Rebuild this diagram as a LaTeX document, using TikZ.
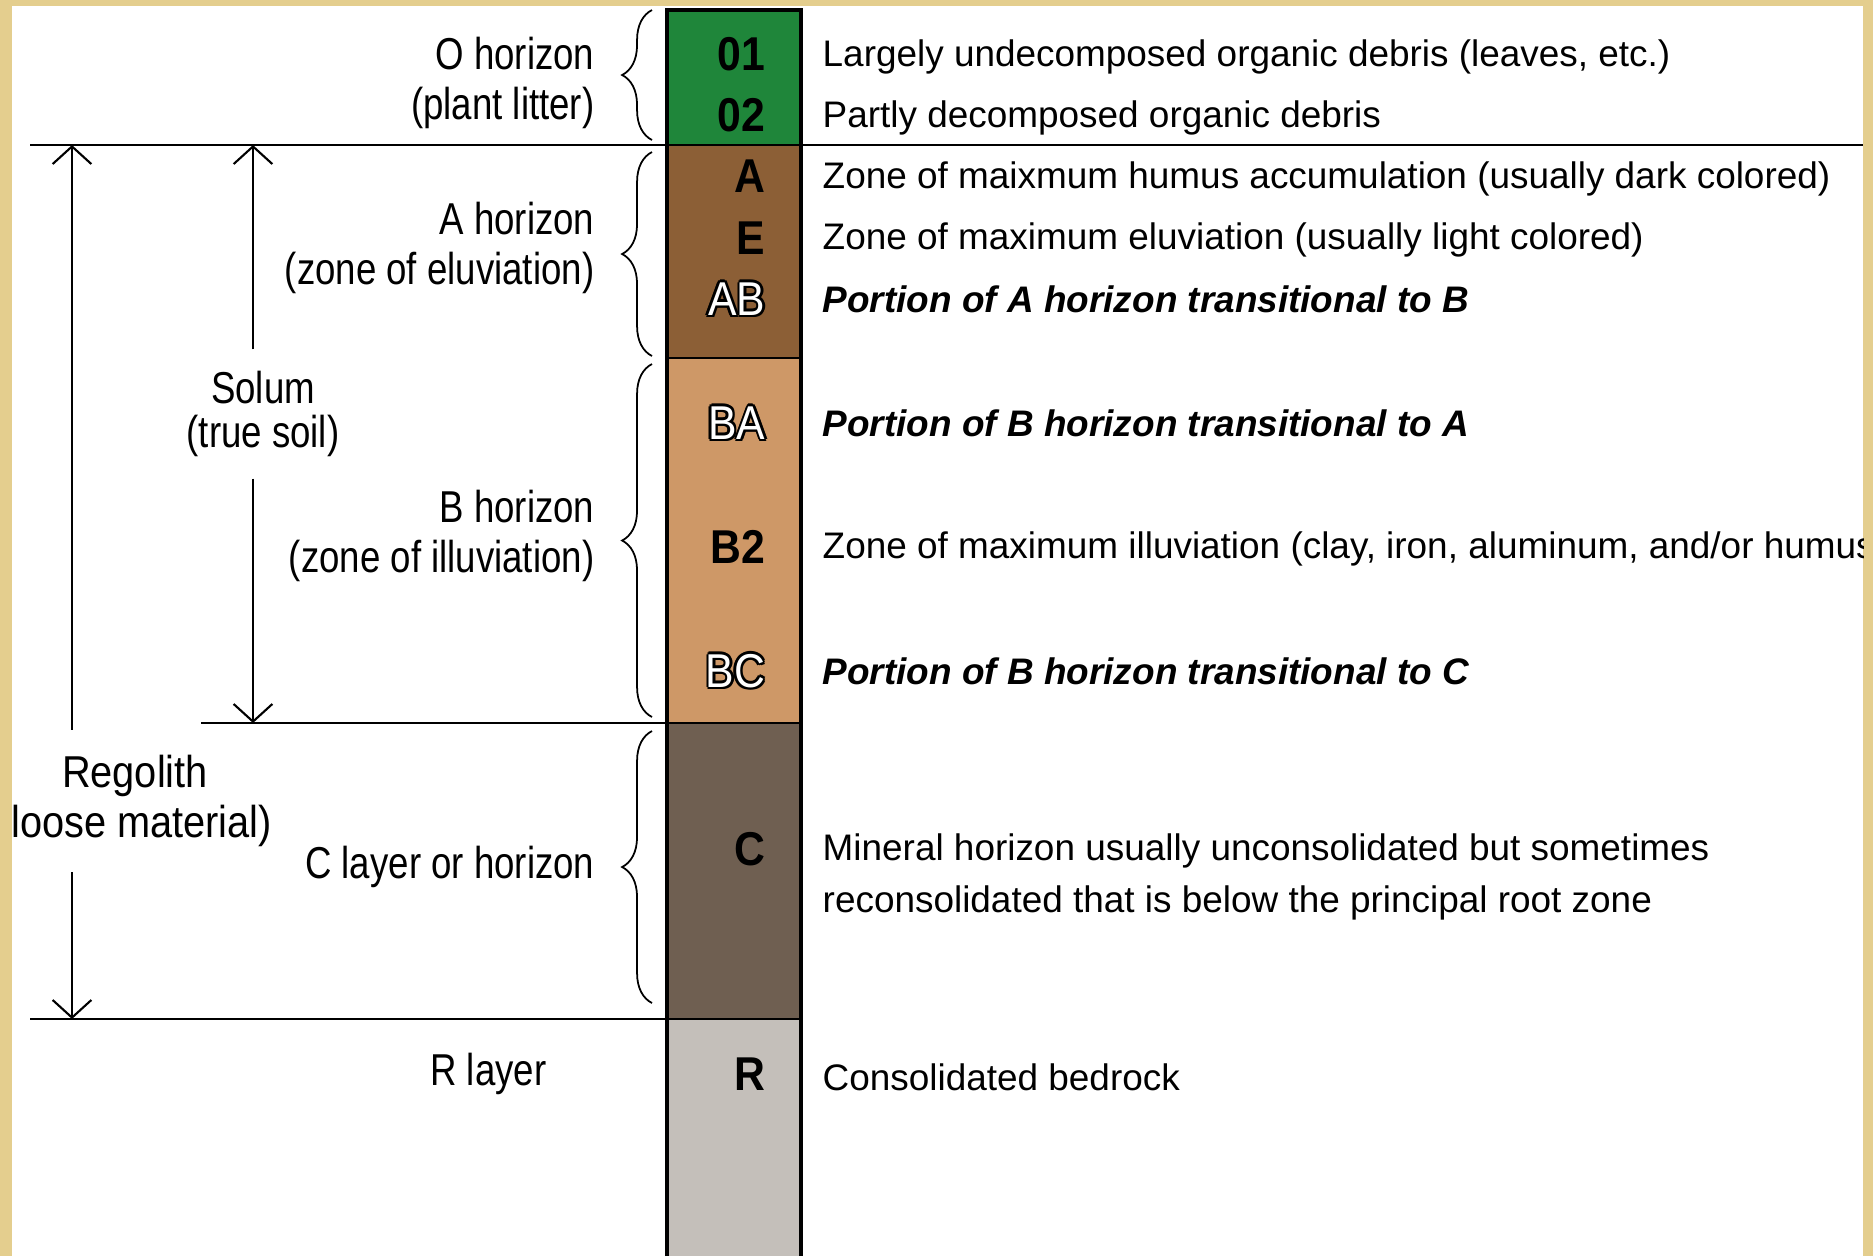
\documentclass[tikz,border=0pt]{standalone}
\usepackage{fontspec}
\setmainfont{Liberation Sans}
\newfontfamily\narrowsans[FakeStretch=0.82]{Liberation Sans}
\newfontfamily\widersans[FakeStretch=0.89]{Liberation Sans}
\newfontfamily\tagsans[FakeStretch=0.9]{Liberation Sans}
\usetikzlibrary{arrows.meta,positioning,calc,decorations.pathreplacing}
\definecolor{frametan}{RGB}{228,206,142}
\definecolor{litter}{RGB}{31,134,58}
\definecolor{topsoil}{RGB}{140,95,54}
\definecolor{subsoil}{RGB}{206,152,103}
\definecolor{parent}{RGB}{111,95,81}
\definecolor{bedrock}{RGB}{196,191,186}
\newcommand{\hollowtag}[1]{%
  \rlap{\hspace*{-.7pt}#1}\rlap{\hspace*{.7pt}#1}%
  \rlap{\raisebox{.7pt}{#1}}\rlap{\raisebox{-.7pt}{#1}}%
  \rlap{\hspace*{-.5pt}\raisebox{.5pt}{#1}}\rlap{\hspace*{.5pt}\raisebox{.5pt}{#1}}%
  \rlap{\hspace*{-.5pt}\raisebox{-.5pt}{#1}}\rlap{\hspace*{.5pt}\raisebox{-.5pt}{#1}}%
  \textcolor{white}{#1}}

\begin{document}
\begin{tikzpicture}[x=0.01cm, y=-0.01cm,
    side/.style={font=\narrowsans\fontsize{12.7}{14.2}\selectfont, anchor=east, align=right, inner sep=0pt},
    desc/.style={font=\fontsize{10.5}{15}\selectfont, anchor=west, align=left, inner sep=0pt},
    trans/.style={desc, font=\bfseries\itshape\fontsize{10.5}{15}\selectfont},
    tag/.style={font=\tagsans\bfseries\fontsize{13.5}{15}\selectfont, anchor=east, inner sep=0pt},
    hollow/.style={font=\tagsans\fontsize{13.5}{15}\selectfont, anchor=east, inner sep=0pt},
    rule/.style={line width=0.7pt},
    brc/.style={decorate, decoration={brace, amplitude=8.5pt}, line width=0.5pt},
    dimarrow/.style={-{Straight Barb[length=5pt, width=11pt]}, line width=0.6pt}]
  \useasboundingbox (0,0) rectangle (1873,1256);
  %% frame
  \fill[frametan] (0,0) rectangle (1873,1256);
  \begin{scope}
    \clip (12,6) rectangle (1863,1256);
    \fill[white] (12,6) rectangle (1863,1256);

    %% soil column
    \fill[litter]  (667,10)   rectangle (801,145);
    \fill[topsoil] (667,145)  rectangle (801,358);
    \fill[subsoil] (667,358)  rectangle (801,723);
    \fill[parent]  (667,723)  rectangle (801,1019);
    \fill[bedrock] (667,1019) rectangle (801,1256);
    \draw[line width=0.9pt] (667,1256) -- (667,10) -- (801,10) -- (801,1256);
    \draw[rule] (667,358) -- (801,358);
    \draw[rule] (30,145) -- (1863,145);
    \draw[rule] (201,723) -- (801,723);
    \draw[rule] (30,1019) -- (801,1019);

    %% horizon symbols
    \node[tag] (o1) at (766,54) {01};
    \node[tag] (o2) at (766,115) {02};
    \node[tag] (ha) at (766,176) {A};
    \node[tag] (he) at (766,238) {E};
    \node[hollow] (hab) at (766,299) {\hollowtag{AB}};
    \node[hollow] (hba) at (766,423) {\hollowtag{BA}};
    \node[tag] (hb2) at (766,547) {B2};
    \node[hollow] (hbc) at (766,671) {\hollowtag{BC}};
    \node[tag] (hc) at (766,849) {C};
    \node[tag] (hr) at (766,1074) {R};

    %% descriptions
    \node[desc] (do1) at (822,57) {Largely undecomposed organic debris (leaves, etc.)};
    \node[desc] (do2) at (822,118) {Partly decomposed organic debris};
    \node[desc] (da) at (822,179) {Zone of maixmum humus accumulation (usually dark colored)};
    \node[desc] (de) at (822,240) {Zone of maximum eluviation (usually light colored)};
    \node[trans] (dab) at (822,299) {Portion of A horizon transitional to B};
    \node[trans] (dba) at (822,423) {Portion of B horizon transitional to A};
    \node[desc] (db2) at (822,549) {Zone of maximum illuviation (clay, iron, aluminum, and/or humus};
    \node[trans] (dbc) at (822,671) {Portion of B horizon transitional to C};
    \node[desc] (dc) at (822,877) {Mineral horizon usually unconsolidated but sometimes\\reconsolidated that is below the principal root zone};
    \node[desc] (dr) at (822,1077) {Consolidated bedrock};

    %% horizon names
    \node[side] (ohor) at (595,83) {O horizon\\(plant litter)};
    \node[side] (ahor) at (595,248) {A horizon\\(zone of eluviation)};
    \node[side] (bhor) at (595,536) {B horizon\\(zone of illuviation)};
    \node[side] (chor) at (595,867) {C layer or horizon};
    \node[side] (rlay) at (547,1074) {R layer};

    %% braces
    \draw[brc] (652,140) -- (652,10);
    \draw[brc] (652,356) -- (652,152);
    \draw[brc] (652,717) -- (652,364);
    \draw[brc] (652,1003) -- (652,731);

    %% solum and regolith
    \node[side, anchor=center, align=center, font=\narrowsans\fontsize{12.7}{12.5}\selectfont, inner ysep=6pt] (solum) at (263,414) {Solum\\(true soil)};
    \node[side, anchor=center, align=center, font=\widersans\fontsize{12.7}{14.2}\selectfont, inner ysep=7pt] (regolith) at (135,801) {Regolith\\(loose material)};
    \coordinate (soltop) at (253,145);
    \coordinate (solbot) at (253,723);
    \coordinate (regtop) at (72,145);
    \coordinate (regbot) at (72,1019);
    \draw[dimarrow] (solum.north -| soltop) -- (soltop);
    \draw[dimarrow] (solum.south -| solbot) -- (solbot);
    \draw[dimarrow] (regolith.north -| regtop) -- (regtop);
    \draw[dimarrow] (regolith.south -| regbot) -- (regbot);
  \end{scope}
\end{tikzpicture}
\end{document}
